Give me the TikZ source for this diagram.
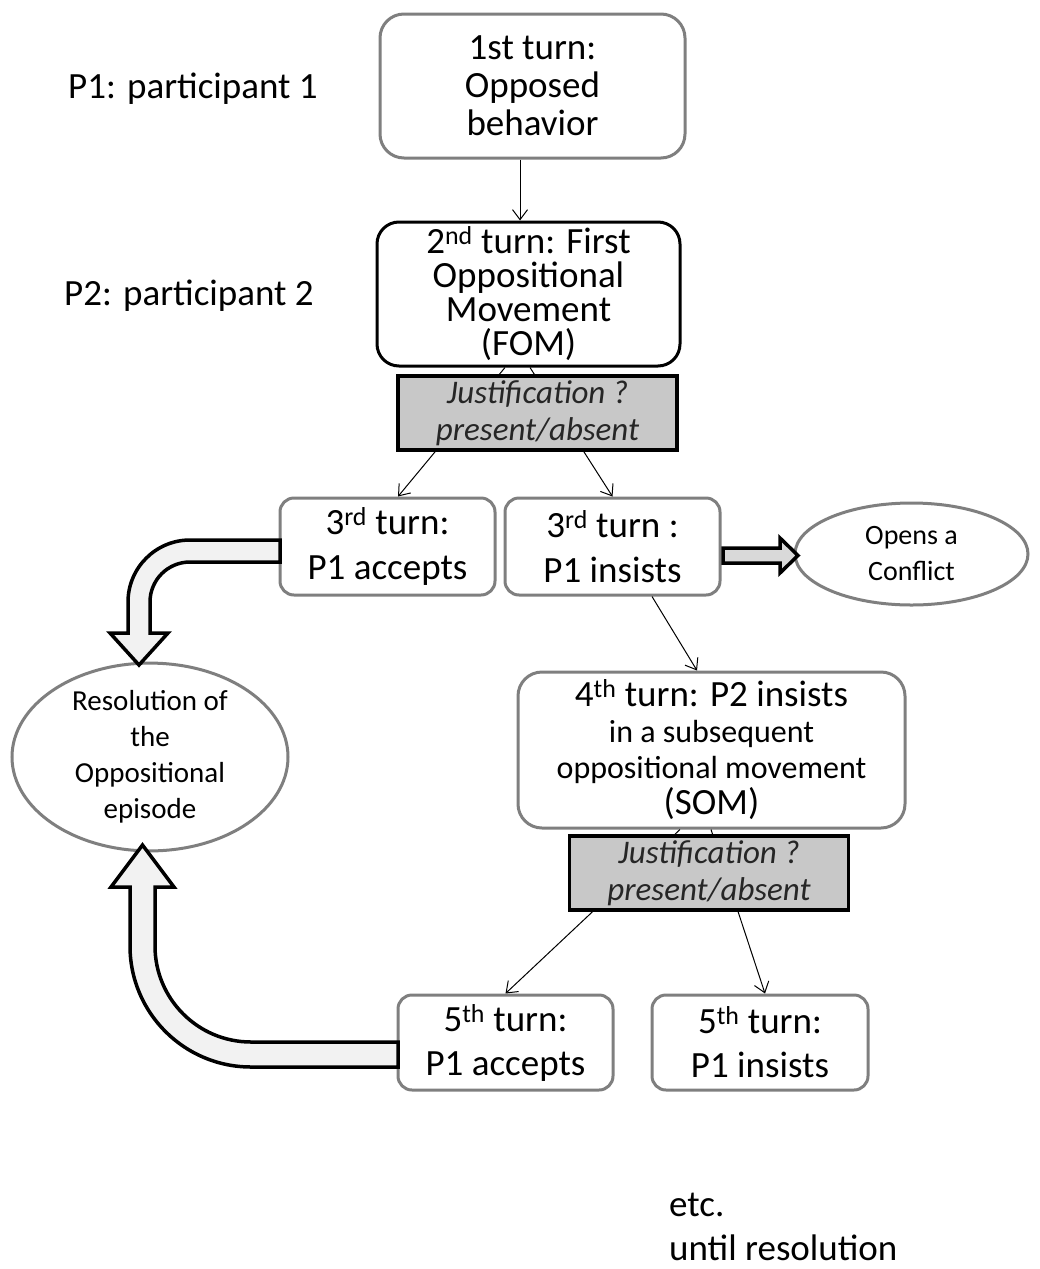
\documentclass[tikz,border=0pt]{standalone}
\usepackage{fontspec}
\setmainfont{Carlito}
\usetikzlibrary{arrows.meta,shapes.geometric}
\definecolor{bordergray}{HTML}{7F7F7F}
\definecolor{justgray}{HTML}{C8C8C8}
\definecolor{arrowfill}{HTML}{F2F2F2}
\definecolor{convfill}{HTML}{D9D9D9}
\tikzset{
  turnbox/.style={draw=bordergray, line width=3pt, rounded corners=14pt, fill=white, align=center, inner sep=0pt},
  justbox/.style={draw=black, line width=3.5pt, fill=justgray, align=center, inner sep=0pt,
    minimum width=279pt, minimum height=74pt, text=black!85, font=\itshape\fontsize{33}{37}\selectfont},
  oval/.style={ellipse, draw=bordergray, line width=3pt, fill=white, align=center, inner sep=0pt},
  conn/.style={line width=1pt, -{Straight Barb[length=10pt,width=15pt]}},
  blockarrow/.style={draw=black, line width=3.5pt, fill=arrowfill, line join=miter},
  big/.style={font=\fontsize{37}{38}\selectfont},
}
\begin{document}
\begin{tikzpicture}[x=1pt,y=-1pt]
\useasboundingbox (0,0) rectangle (1040,1269);

% side labels
\node[big, anchor=base west, inner sep=0pt] (p1) at (68,98) {P1: participant 1};
\node[big, anchor=base west, inner sep=0pt] (p2) at (64,305) {P2: participant 2};

% turn boxes
\node[turnbox, rounded corners=24pt, minimum width=305pt, minimum height=144pt, big] (b1) at (532.5,86) {1st turn:\\Opposed\\behavior};
\node[turnbox, draw=black, rounded corners=22pt, minimum width=303pt, minimum height=144pt, font=\fontsize{37}{34}\selectfont] (b2) at (528.5,294) {2\textsuperscript{nd} turn: First\\Oppositional\\Movement\\(FOM)};
\node[turnbox, minimum width=215pt, minimum height=97pt, font=\fontsize{37}{45}\selectfont] (acc3) at (387.5,546.5) {3\textsuperscript{rd} turn:\\P1 accepts};
\node[turnbox, minimum width=215pt, minimum height=97pt, font=\fontsize{37}{45}\selectfont] (ins3) at (612.5,546.5) {3\textsuperscript{rd} turn :\\P1 insists};
\node[oval, minimum width=233pt, minimum height=102pt, font=\fontsize{28}{36}\selectfont] (conf) at (911.5,554) {Opens a\\Conflict};
\node[oval, minimum width=276pt, minimum height=170pt, font=\fontsize{29}{36}\selectfont] (res) at (150,757) {Resolution of\\the\\Oppositional\\episode};
\node[turnbox, rounded corners=24pt, minimum width=387pt, minimum height=156pt, font=\fontsize{37}{36}\selectfont] (b4) at (711.5,750) {4\textsuperscript{th} turn: P2 insists\\{\fontsize{32}{36}\selectfont in a subsequent}\\{\fontsize{32}{36}\selectfont oppositional movement}\\(SOM)};
\node[turnbox, minimum width=215pt, minimum height=95pt, font=\fontsize{37}{44}\selectfont] (acc5) at (505.5,1042.5) {5\textsuperscript{th} turn:\\P1 accepts};
\node[turnbox, minimum width=216pt, minimum height=95pt, font=\fontsize{37}{44}\selectfont] (ins5) at (760,1042.5) {5\textsuperscript{th} turn:\\P1 insists};

% thin connectors
\draw[conn] ([xshift=-12.5pt]b1.south) -- ([xshift=-8.5pt]b2.north);
\draw[conn] ([xshift=-23.5pt]b2.south) -- ([xshift=10.5pt]acc3.north);
\draw[conn] ([xshift=1.5pt]b2.south) -- (ins3.north);
\draw[conn] ([xshift=39.5pt]ins3.south) -- ([xshift=-14.5pt]b4.north);
\draw[conn] ([xshift=-31.5pt]b4.south) -- (acc5.north);
\draw[conn] ([xshift=-0.5pt]b4.south) -- ([xshift=5pt]ins5.north);

% justification boxes (on top of the connectors)
\node[justbox] (j1) at (537.5,413) {Justification ?\\present/absent};
\node[justbox] (j2) at (709,873) {Justification ?\\present/absent};

% block arrows
\draw[blockarrow, fill=convfill] (723,548) -- (780,548) -- (780,538) -- (798,555.5) -- (780,573) -- (780,563) -- (723,563) -- cycle;

\draw[blockarrow] (280,540) -- (190,540) .. controls (155.8,540) and (128,567.8) .. (128,602)
  -- (128,633) -- (110,633) -- (139,665) -- (168,633) -- (150,633) -- (150,602)
  .. controls (150,579.9) and (167.9,562) .. (190,562) -- (280,562) -- cycle;

\draw[blockarrow] (398,1067) -- (251,1067) .. controls (184.2,1067) and (130,1012.8) .. (130,946)
  -- (130,887) -- (111,887) -- (142.5,845) -- (174,887) -- (155,887) -- (155,946)
  .. controls (155,999) and (198,1042) .. (251,1042) -- (398,1042) -- cycle;

% closing text
\node[big, anchor=base west, inner sep=0pt] (etc) at (669,1216) {etc.};
\node[big, anchor=base west, inner sep=0pt] (until) at (669,1260) {until resolution};
\end{tikzpicture}
\end{document}
